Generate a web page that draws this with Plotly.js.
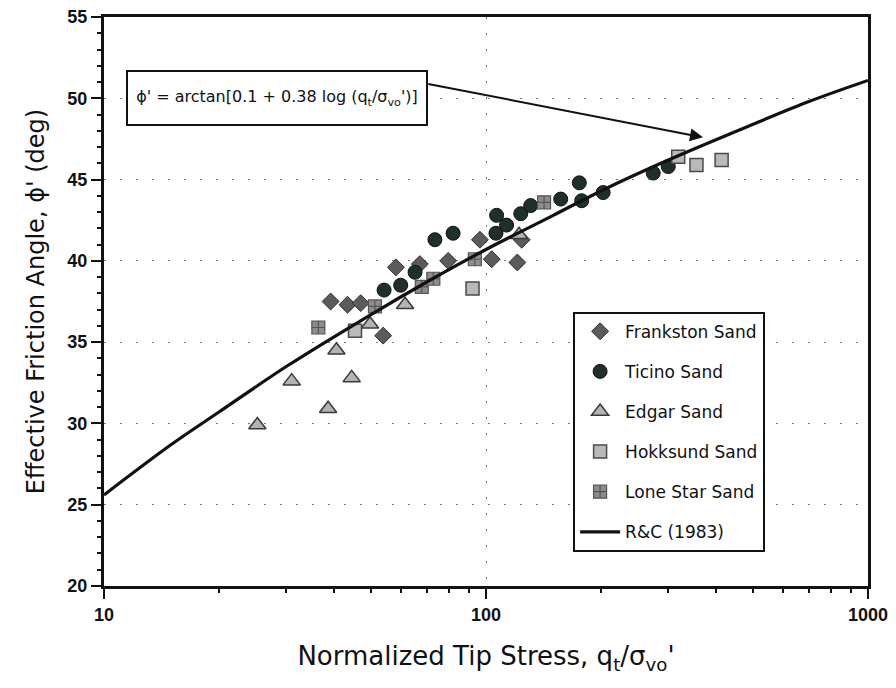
<!DOCTYPE html>
<html>
<head>
<meta charset="utf-8">
<script src="https://cdn.plot.ly/plotly-3.0.1.min.js"></script>
<style>html,body{margin:0;padding:0;background:#fff;}#chart{width:896px;height:688px;}</style>
</head>
<body>
<div id="chart"></div>
<script>
// ---- data ----
const frankstonX = [39.2, 43.4, 47.0, 53.8, 58.1, 67.1, 79.6, 96.4, 103.5, 120.8, 124.0];
const frankstonY = [37.5, 37.3, 37.4, 35.4, 39.6, 39.8, 40.0, 41.3, 40.1, 39.9, 41.3];

const ticinoX = [54.1, 59.8, 65.2, 73.5, 82.0, 106.2, 106.6, 113.2, 123.3, 130.9, 156.9, 175.5, 178.0, 202.6, 274.0, 300.0];
const ticinoY = [38.2, 38.5, 39.3, 41.3, 41.7, 41.7, 42.8, 42.2, 42.9, 43.4, 43.8, 44.8, 43.7, 44.2, 45.4, 45.8];

const edgarX = [25.2, 31.0, 38.6, 40.6, 44.5, 49.7, 61.4, 122.0];
const edgarY = [29.9, 32.6, 30.9, 34.5, 32.8, 36.1, 37.3, 41.6];

const hokksundX = [45.4, 92.2, 318.6, 355.6, 413.8];
const hokksundY = [35.7, 38.3, 46.4, 45.9, 46.2];

const loneStarX = [36.4, 51.2, 67.9, 72.8, 93.5, 141.9];
const loneStarY = [35.9, 37.2, 38.4, 38.9, 40.1, 43.6];

const rcX = [10, 15, 20, 30, 50, 70, 100, 150, 200, 300, 500, 700, 1000];
const rcY = [25.6, 28.7, 30.7, 33.5, 36.7, 38.7, 40.7, 42.8, 44.3, 46.2, 48.4, 49.8, 51.1];

const seriesNames = ['Frankston Sand', 'Ticino Sand', 'Edgar Sand', 'Hokksund Sand', 'Lone Star Sand', 'R&C (1983)'];

const xTickVals = [10, 100, 1000];
const xTickText = ['10', '100', '1000'];
const xMinorVals = [20, 30, 40, 50, 60, 70, 80, 90, 200, 300, 400, 500, 600, 700, 800, 900];
const yTickVals = [20, 25, 30, 35, 40, 45, 50, 55];
const yTickText = ['20', '25', '30', '35', '40', '45', '50', '55'];

const annotationText = "\u03d5' = arctan[0.1 + 0.38 log (q<sub>t</sub>/\u03c3<sub>vo</sub>')]";
const xTitle = "Normalized Tip Stress, q<sub>t</sub>/\u03c3<sub>vo</sub>'";
const yTitle = "Effective Friction Angle, \u03d5' (deg)";

// ---- chart ----
const FONT = 'DejaVu Sans, Verdana, sans-serif';
const tickFont = () => ({family: 'Liberation Sans, Arial, sans-serif', size: 18, weight: 700, color: '#111'});

const traces = [
  {x: frankstonX, y: frankstonY, name: seriesNames[0], mode: 'markers', type: 'scatter', legendgroup: 'a',
   marker: {symbol: 'diamond', size: 13, color: '#5b5b5b', line: {color: '#2e2e2e', width: 1}}},
  {x: ticinoX, y: ticinoY, name: seriesNames[1], mode: 'markers', type: 'scatter', legendgroup: 'b',
   marker: {symbol: 'circle', size: 14, color: '#1f302c', line: {color: '#111', width: 1}}},
  {x: edgarX, y: edgarY, name: seriesNames[2], mode: 'markers', type: 'scatter', legendgroup: 'c',
   marker: {symbol: 'triangle-up', size: 15, color: '#b3b3b3', line: {color: '#3a3a3a', width: 1.5}}},
  {x: hokksundX, y: hokksundY, name: seriesNames[3], mode: 'markers', type: 'scatter', legendgroup: 'd',
   marker: {symbol: 'square', size: 13, color: '#b9b9b9', line: {color: '#4a4a4a', width: 1.5}}},
  {x: loneStarX, y: loneStarY, name: seriesNames[4], mode: 'markers', type: 'scatter', legendgroup: 'e',
   marker: {symbol: 'square-cross', size: 13, color: '#8c8c8c', line: {color: '#555', width: 1.2}}},
  {x: rcX, y: rcY, name: seriesNames[5], mode: 'lines', type: 'scatter', legendgroup: 'f',
   line: {color: '#111', width: 3.2, shape: 'spline'}},
  // empty trace so the minor-tick overlay axes are drawn
  {x: [], y: [], xaxis: 'x2', yaxis: 'y2', type: 'scatter', mode: 'markers', showlegend: false, hoverinfo: 'skip'}
];

const layout = {
  width: 896, height: 688,
  margin: {l: 104, r: 28, t: 17, b: 102},
  paper_bgcolor: '#fff', plot_bgcolor: '#fff',
  font: {family: FONT, color: '#111'},
  showlegend: true,
  legend: {
    x: 0.614, y: 0.482, xanchor: 'left', yanchor: 'top',
    bordercolor: '#111', borderwidth: 2, bgcolor: '#fff',
    font: {family: FONT, size: 17, color: '#111'},
    traceorder: 'grouped', tracegroupgap: 15, itemwidth: 40
  },
  xaxis: {
    type: 'log', range: [1, 3],
    tickmode: 'array', tickvals: xTickVals, ticktext: xTickText,
    ticks: 'outside', ticklen: 10, tickwidth: 2, tickcolor: '#111',
    tickfont: tickFont(),
    showline: true, linewidth: 3, linecolor: '#111', mirror: true,
    showgrid: true, gridcolor: '#777', griddash: '2px,14px', gridwidth: 1,
    title: {text: xTitle, font: {family: FONT, size: 26, color: '#111'}, standoff: 24},
    zeroline: false
  },
  yaxis: {
    range: [20, 55],
    tickmode: 'array', tickvals: yTickVals, ticktext: yTickText,
    ticks: 'outside', ticklen: 10, tickwidth: 2, tickcolor: '#111',
    tickfont: tickFont(),
    showline: true, linewidth: 3, linecolor: '#111', mirror: true,
    showgrid: true, gridcolor: '#777', griddash: '2px,14px', gridwidth: 1,
    title: {text: yTitle, font: {family: FONT, size: 24, color: '#111'}, standoff: 16},
    zeroline: false
  },
  xaxis2: {
    type: 'log', range: [1, 3], overlaying: 'x', anchor: 'y', side: 'bottom',
    tickmode: 'array', tickvals: xMinorVals, showticklabels: false,
    ticks: 'outside', ticklen: 6, tickwidth: 2, tickcolor: '#111',
    showline: false, showgrid: false, zeroline: false
  },
  yaxis2: {
    range: [20, 55], overlaying: 'y', anchor: 'x', side: 'left',
    dtick: 1, tick0: 20, showticklabels: false,
    ticks: 'outside', ticklen: 6, tickwidth: 2, tickcolor: '#111',
    showline: false, showgrid: false, zeroline: false
  },
  annotations: [
    {xref: 'paper', yref: 'paper', x: 0.2264, y: 0.8576, xanchor: 'center', yanchor: 'middle',
     text: annotationText, showarrow: false,
     font: {family: FONT, size: 16, color: '#111'},
     bordercolor: '#111', borderwidth: 2, bgcolor: '#fff', width: 294, height: 48, borderpad: 2},
    {xref: 'x', yref: 'y', x: 2.568, y: 47.6, axref: 'x', ayref: 'y', ax: 1.845, ay: 50.9,
     text: '', showarrow: true, arrowhead: 2, arrowsize: 1.3, arrowwidth: 2, arrowcolor: '#111'}
  ]
};

Plotly.newPlot('chart', traces, layout, {staticPlot: true, displayModeBar: false});
</script>
</body>
</html>
